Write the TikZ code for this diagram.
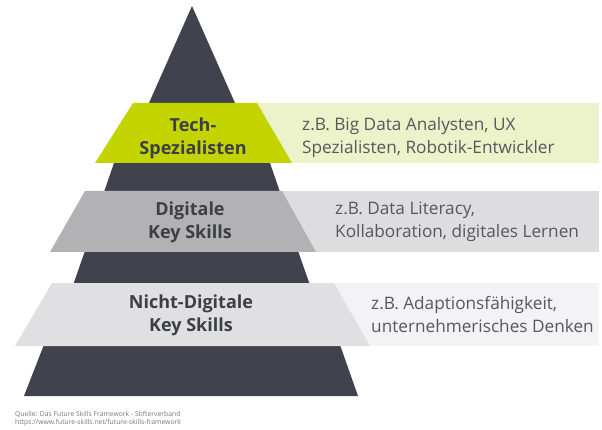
\documentclass[tikz,border=0pt]{standalone}
\usepackage{fontspec}
\setmainfont{Open Sans}
\definecolor{dark}{RGB}{64,67,77}
\definecolor{lime}{RGB}{196,212,0}
\definecolor{limelight}{RGB}{236,242,202}
\definecolor{midgray}{RGB}{178,178,181}
\definecolor{midgraylight}{RGB}{221,221,223}
\definecolor{lightgray}{RGB}{224,224,226}
\definecolor{lightgraylight}{RGB}{243,243,245}
\definecolor{labeltext}{RGB}{60,63,72}
\definecolor{desctext}{RGB}{88,88,92}
\definecolor{srctext}{RGB}{120,120,120}
\tikzset{
  lvl/.style={font=\fontsize{18}{23}\selectfont\bfseries, text=labeltext, align=center, inner sep=0pt},
  desc/.style={font=\fontsize{17.2}{23}\selectfont, text=desctext, align=left, anchor=west, inner sep=0pt},
  src/.style={font=\fontsize{6.8}{8}\selectfont, text=srctext, anchor=west, inner sep=0pt}
}
\begin{document}
\begin{tikzpicture}[x=1pt,y=-1pt]
\useasboundingbox (0,0) rectangle (602,430);
\fill[white] (0,0) rectangle (602,430);
% dark pyramid pieces
\fill[dark] (192,6) -- (239,112) -- (145,112) -- cycle;
\fill[dark] (115,160) -- (269,160) -- (281,195) -- (103,195) -- cycle;
\fill[dark] (86,248) -- (297,248) -- (311,288) -- (72,288) -- cycle;
\fill[dark] (45,342) -- (339,342) -- (358,396) -- (24,396) -- cycle;
% band 1
\fill[limelight] (257,103) rectangle (599,163);
\fill[lime] (133,103) -- (257,103) -- (292,163) -- (95,163) -- cycle;
% band 2
\fill[midgraylight] (282,191) rectangle (599,252);
\fill[midgray] (85,191) -- (282,191) -- (316,252) -- (50,252) -- cycle;
% band 3
\fill[lightgraylight] (334,283) rectangle (599,346);
\fill[lightgray] (52,283) -- (334,283) -- (370,346) -- (15,346) -- cycle;
% labels
\node[lvl] (l1) at (193,138) {Tech-\\Spezialisten};
\node[lvl] (l2) at (190,222) {Digitale\\Key Skills};
\node[lvl] (l3) at (191,315) {Nicht-Digitale\\Key Skills};
\node[desc] (d1) at (302,138) {z.B. Big Data Analysten, UX\\Spezialisten, Robotik-Entwickler};
\node[desc] (d2) at (335,222) {z.B. Data Literacy,\\Kollaboration, digitales Lernen};
\node[desc] (d3) at (371,315) {z.B. Adaptionsfähigkeit,\\unternehmerisches Denken};
\node[src] (s1) at (15,414) {Quelle: Das Future Skills Framework - Stifterverband};
\node[src] (s2) at (15,423) {https://www.future-skills.net/future-skills-framework};
\end{tikzpicture}
\end{document}
